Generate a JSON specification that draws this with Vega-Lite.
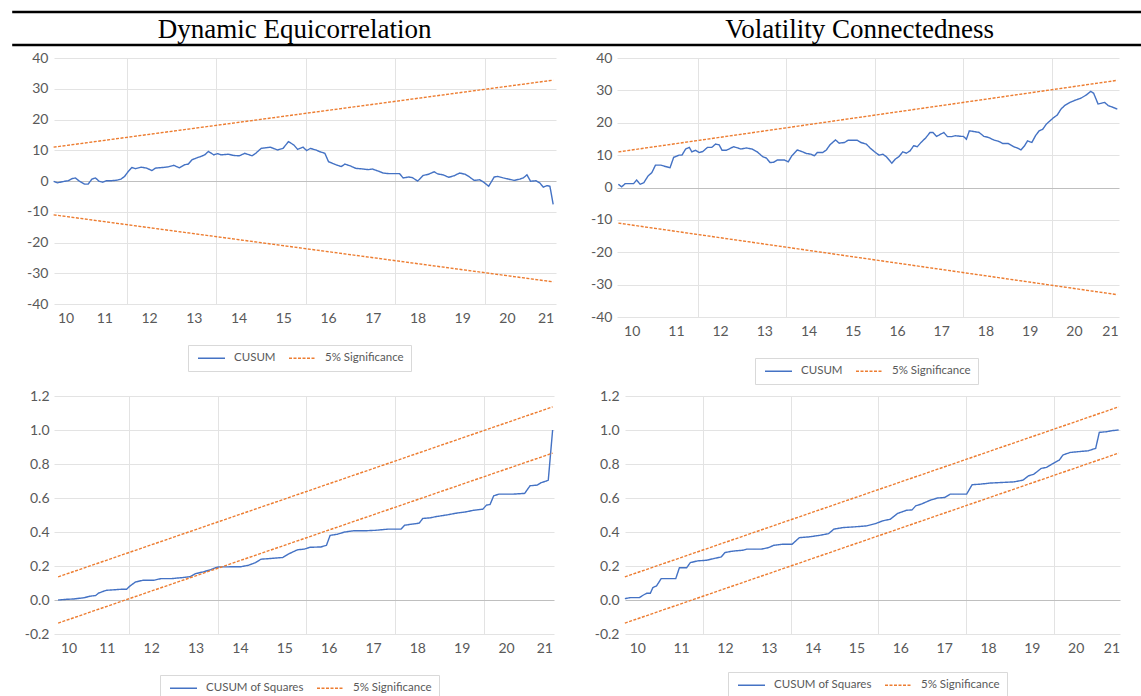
{
  "$schema": "https://vega.github.io/schema/vega-lite/v6.json",
  "background": "white",
  "padding": {"left": 10, "top": 10, "right": 0, "bottom": 0},
  "spacing": 4,
  "resolve": {"scale": {"color": "independent", "strokeDash": "independent"}, "legend": {"color": "independent", "strokeDash": "independent"}},
  "config": {
    "view": {"stroke": null},
    "axis": {"labelFont": "Lato", "labelFontSize": 14, "labelColor": "#595959", "domain": false, "ticks": false, "tickSize": 0, "gridColor": "#e3e3e3", "gridWidth": 1},
    "legend": {"symbolType": "M-0.6,0H4.8", "symbolSize": 100, "symbolStrokeWidth": 1.5, "labelFont": "Lato", "labelFontSize": 11.5, "labelColor": "#595959", "columnPadding": 10, "labelOffset": 27, "padding": 7, "strokeColor": "#d9d9d9", "fillColor": "#ffffff"}
  },
  "datasets": {
    "tl": [
      {"year":9.868,"value":-0.1,"series":"CUSUM"},{"year":9.950,"value":-0.6,"series":"CUSUM"},{"year":10.112,"value":-0.1,"series":"CUSUM"},{"year":10.194,"value":0.1,"series":"CUSUM"},{"year":10.275,"value":0.75,"series":"CUSUM"},{"year":10.356,"value":1.0,"series":"CUSUM"},{"year":10.438,"value":0,"series":"CUSUM"},{"year":10.560,"value":-1,"series":"CUSUM"},{"year":10.641,"value":-1,"series":"CUSUM"},{"year":10.723,"value":0.6,"series":"CUSUM"},{"year":10.804,"value":1,"series":"CUSUM"},{"year":10.885,"value":-0.1,"series":"CUSUM"},{"year":10.967,"value":-0.4,"series":"CUSUM"},{"year":11.048,"value":0.1,"series":"CUSUM"},{"year":11.170,"value":0.1,"series":"CUSUM"},{"year":11.292,"value":0.3,"series":"CUSUM"},{"year":11.373,"value":0.6,"series":"CUSUM"},{"year":11.455,"value":1.5,"series":"CUSUM"},{"year":11.536,"value":3.1,"series":"CUSUM"},{"year":11.618,"value":4.4,"series":"CUSUM"},{"year":11.699,"value":4.0,"series":"CUSUM"},{"year":11.821,"value":4.5,"series":"CUSUM"},{"year":11.943,"value":4.2,"series":"CUSUM"},{"year":12.065,"value":3.4,"series":"CUSUM"},{"year":12.146,"value":4.2,"series":"CUSUM"},{"year":12.309,"value":4.4,"series":"CUSUM"},{"year":12.431,"value":4.6,"series":"CUSUM"},{"year":12.553,"value":5.1,"series":"CUSUM"},{"year":12.675,"value":4.3,"series":"CUSUM"},{"year":12.797,"value":5.3,"series":"CUSUM"},{"year":12.879,"value":5.5,"series":"CUSUM"},{"year":12.960,"value":6.9,"series":"CUSUM"},{"year":13.082,"value":7.6,"series":"CUSUM"},{"year":13.164,"value":8.0,"series":"CUSUM"},{"year":13.245,"value":8.5,"series":"CUSUM"},{"year":13.326,"value":9.6,"series":"CUSUM"},{"year":13.448,"value":8.5,"series":"CUSUM"},{"year":13.530,"value":8.9,"series":"CUSUM"},{"year":13.611,"value":8.5,"series":"CUSUM"},{"year":13.774,"value":8.7,"series":"CUSUM"},{"year":13.896,"value":8.3,"series":"CUSUM"},{"year":14.018,"value":8.2,"series":"CUSUM"},{"year":14.140,"value":9.0,"series":"CUSUM"},{"year":14.303,"value":8.2,"series":"CUSUM"},{"year":14.384,"value":9.0,"series":"CUSUM"},{"year":14.506,"value":10.6,"series":"CUSUM"},{"year":14.710,"value":11.0,"series":"CUSUM"},{"year":14.872,"value":10.1,"series":"CUSUM"},{"year":14.994,"value":10.6,"series":"CUSUM"},{"year":15.116,"value":12.8,"series":"CUSUM"},{"year":15.238,"value":11.7,"series":"CUSUM"},{"year":15.320,"value":10.3,"series":"CUSUM"},{"year":15.442,"value":11.0,"series":"CUSUM"},{"year":15.523,"value":9.9,"series":"CUSUM"},{"year":15.605,"value":10.6,"series":"CUSUM"},{"year":15.727,"value":10.1,"series":"CUSUM"},{"year":15.808,"value":9.6,"series":"CUSUM"},{"year":15.930,"value":9.0,"series":"CUSUM"},{"year":16.011,"value":6.3,"series":"CUSUM"},{"year":16.174,"value":5.3,"series":"CUSUM"},{"year":16.296,"value":4.7,"series":"CUSUM"},{"year":16.378,"value":5.5,"series":"CUSUM"},{"year":16.500,"value":4.9,"series":"CUSUM"},{"year":16.622,"value":4.1,"series":"CUSUM"},{"year":16.784,"value":3.9,"series":"CUSUM"},{"year":16.906,"value":3.7,"series":"CUSUM"},{"year":16.988,"value":3.9,"series":"CUSUM"},{"year":17.110,"value":3.3,"series":"CUSUM"},{"year":17.232,"value":2.6,"series":"CUSUM"},{"year":17.354,"value":2.4,"series":"CUSUM"},{"year":17.598,"value":2.4,"series":"CUSUM"},{"year":17.679,"value":1.0,"series":"CUSUM"},{"year":17.801,"value":1.3,"series":"CUSUM"},{"year":17.883,"value":1.1,"series":"CUSUM"},{"year":18.005,"value":0,"series":"CUSUM"},{"year":18.127,"value":1.8,"series":"CUSUM"},{"year":18.249,"value":2.2,"series":"CUSUM"},{"year":18.371,"value":3.0,"series":"CUSUM"},{"year":18.452,"value":2.3,"series":"CUSUM"},{"year":18.574,"value":2.0,"series":"CUSUM"},{"year":18.696,"value":1.2,"series":"CUSUM"},{"year":18.819,"value":1.7,"series":"CUSUM"},{"year":18.941,"value":2.6,"series":"CUSUM"},{"year":19.063,"value":2.2,"series":"CUSUM"},{"year":19.144,"value":1.5,"series":"CUSUM"},{"year":19.266,"value":0.2,"series":"CUSUM"},{"year":19.388,"value":0.4,"series":"CUSUM"},{"year":19.469,"value":-0.3,"series":"CUSUM"},{"year":19.591,"value":-1.7,"series":"CUSUM"},{"year":19.714,"value":1.3,"series":"CUSUM"},{"year":19.795,"value":1.5,"series":"CUSUM"},{"year":19.917,"value":1.0,"series":"CUSUM"},{"year":20.039,"value":0.6,"series":"CUSUM"},{"year":20.161,"value":0.2,"series":"CUSUM"},{"year":20.283,"value":0.6,"series":"CUSUM"},{"year":20.364,"value":1.0,"series":"CUSUM"},{"year":20.446,"value":2.0,"series":"CUSUM"},{"year":20.527,"value":-0.1,"series":"CUSUM"},{"year":20.649,"value":0.1,"series":"CUSUM"},{"year":20.731,"value":-0.6,"series":"CUSUM"},{"year":20.812,"value":-2.0,"series":"CUSUM"},{"year":20.894,"value":-1.5,"series":"CUSUM"},{"year":20.959,"value":-1.7,"series":"CUSUM"},{"year":21.032,"value":-7.6,"series":"CUSUM"},
      {"year":9.868,"value":11.0,"series":"5% Significance","band":"upper"},{"year":21.032,"value":32.8,"series":"5% Significance","band":"upper"},
      {"year":9.868,"value":-11.0,"series":"5% Significance","band":"lower"},{"year":21.032,"value":-32.8,"series":"5% Significance","band":"lower"}
    ],
    "tr": [
      {"year":9.699,"value":1.0,"series":"CUSUM"},{"year":9.773,"value":0.2,"series":"CUSUM"},{"year":9.855,"value":1.2,"series":"CUSUM"},{"year":9.962,"value":1.2,"series":"CUSUM"},{"year":10.044,"value":1.2,"series":"CUSUM"},{"year":10.110,"value":2.3,"series":"CUSUM"},{"year":10.192,"value":1.0,"series":"CUSUM"},{"year":10.275,"value":1.5,"series":"CUSUM"},{"year":10.373,"value":3.6,"series":"CUSUM"},{"year":10.456,"value":4.6,"series":"CUSUM"},{"year":10.538,"value":6.9,"series":"CUSUM"},{"year":10.661,"value":6.9,"series":"CUSUM"},{"year":10.760,"value":6.5,"series":"CUSUM"},{"year":10.867,"value":6.1,"series":"CUSUM"},{"year":10.949,"value":9.3,"series":"CUSUM"},{"year":11.072,"value":10.0,"series":"CUSUM"},{"year":11.138,"value":10.0,"series":"CUSUM"},{"year":11.220,"value":11.9,"series":"CUSUM"},{"year":11.303,"value":12.4,"series":"CUSUM"},{"year":11.360,"value":11.0,"series":"CUSUM"},{"year":11.442,"value":11.5,"series":"CUSUM"},{"year":11.525,"value":10.8,"series":"CUSUM"},{"year":11.607,"value":11.1,"series":"CUSUM"},{"year":11.714,"value":12.4,"series":"CUSUM"},{"year":11.813,"value":12.4,"series":"CUSUM"},{"year":11.895,"value":13.4,"series":"CUSUM"},{"year":11.977,"value":13.2,"series":"CUSUM"},{"year":12.043,"value":11.5,"series":"CUSUM"},{"year":12.141,"value":11.5,"series":"CUSUM"},{"year":12.306,"value":12.6,"series":"CUSUM"},{"year":12.470,"value":11.9,"series":"CUSUM"},{"year":12.594,"value":12.2,"series":"CUSUM"},{"year":12.717,"value":11.9,"series":"CUSUM"},{"year":12.840,"value":11.0,"series":"CUSUM"},{"year":12.964,"value":9.5,"series":"CUSUM"},{"year":13.046,"value":9.1,"series":"CUSUM"},{"year":13.128,"value":7.7,"series":"CUSUM"},{"year":13.211,"value":7.8,"series":"CUSUM"},{"year":13.293,"value":8.5,"series":"CUSUM"},{"year":13.457,"value":8.5,"series":"CUSUM"},{"year":13.539,"value":7.9,"series":"CUSUM"},{"year":13.622,"value":9.8,"series":"CUSUM"},{"year":13.745,"value":11.6,"series":"CUSUM"},{"year":13.868,"value":11.0,"series":"CUSUM"},{"year":13.951,"value":10.5,"series":"CUSUM"},{"year":14.049,"value":10.3,"series":"CUSUM"},{"year":14.132,"value":9.8,"series":"CUSUM"},{"year":14.197,"value":10.8,"series":"CUSUM"},{"year":14.321,"value":10.8,"series":"CUSUM"},{"year":14.403,"value":11.6,"series":"CUSUM"},{"year":14.485,"value":13.2,"series":"CUSUM"},{"year":14.609,"value":14.7,"series":"CUSUM"},{"year":14.691,"value":13.7,"series":"CUSUM"},{"year":14.814,"value":13.9,"series":"CUSUM"},{"year":14.896,"value":14.6,"series":"CUSUM"},{"year":15.102,"value":14.6,"series":"CUSUM"},{"year":15.184,"value":13.9,"series":"CUSUM"},{"year":15.308,"value":13.4,"series":"CUSUM"},{"year":15.390,"value":12.2,"series":"CUSUM"},{"year":15.513,"value":10.8,"series":"CUSUM"},{"year":15.595,"value":10.0,"series":"CUSUM"},{"year":15.678,"value":10.3,"series":"CUSUM"},{"year":15.760,"value":9.5,"series":"CUSUM"},{"year":15.883,"value":7.5,"series":"CUSUM"},{"year":15.965,"value":8.8,"series":"CUSUM"},{"year":16.048,"value":9.6,"series":"CUSUM"},{"year":16.130,"value":11.0,"series":"CUSUM"},{"year":16.212,"value":10.6,"series":"CUSUM"},{"year":16.294,"value":11.3,"series":"CUSUM"},{"year":16.377,"value":12.9,"series":"CUSUM"},{"year":16.459,"value":12.6,"series":"CUSUM"},{"year":16.541,"value":13.9,"series":"CUSUM"},{"year":16.648,"value":15.3,"series":"CUSUM"},{"year":16.747,"value":17.0,"series":"CUSUM"},{"year":16.812,"value":17.0,"series":"CUSUM"},{"year":16.895,"value":15.8,"series":"CUSUM"},{"year":16.952,"value":16.2,"series":"CUSUM"},{"year":17.059,"value":17.0,"series":"CUSUM"},{"year":17.141,"value":15.7,"series":"CUSUM"},{"year":17.240,"value":15.7,"series":"CUSUM"},{"year":17.322,"value":16.0,"series":"CUSUM"},{"year":17.446,"value":15.8,"series":"CUSUM"},{"year":17.503,"value":15.8,"series":"CUSUM"},{"year":17.569,"value":14.9,"series":"CUSUM"},{"year":17.635,"value":17.5,"series":"CUSUM"},{"year":17.734,"value":17.3,"series":"CUSUM"},{"year":17.857,"value":17.0,"series":"CUSUM"},{"year":17.964,"value":15.8,"series":"CUSUM"},{"year":18.062,"value":15.5,"series":"CUSUM"},{"year":18.186,"value":14.7,"series":"CUSUM"},{"year":18.309,"value":14.2,"series":"CUSUM"},{"year":18.391,"value":13.6,"series":"CUSUM"},{"year":18.515,"value":13.6,"series":"CUSUM"},{"year":18.638,"value":12.6,"series":"CUSUM"},{"year":18.720,"value":12.2,"series":"CUSUM"},{"year":18.803,"value":11.6,"series":"CUSUM"},{"year":18.885,"value":12.9,"series":"CUSUM"},{"year":18.951,"value":14.4,"series":"CUSUM"},{"year":19.049,"value":13.9,"series":"CUSUM"},{"year":19.132,"value":16.0,"series":"CUSUM"},{"year":19.214,"value":17.5,"series":"CUSUM"},{"year":19.296,"value":18.0,"series":"CUSUM"},{"year":19.378,"value":19.6,"series":"CUSUM"},{"year":19.461,"value":20.6,"series":"CUSUM"},{"year":19.543,"value":21.6,"series":"CUSUM"},{"year":19.625,"value":22.4,"series":"CUSUM"},{"year":19.707,"value":24.2,"series":"CUSUM"},{"year":19.789,"value":25.3,"series":"CUSUM"},{"year":19.913,"value":26.3,"series":"CUSUM"},{"year":20.036,"value":27.0,"series":"CUSUM"},{"year":20.160,"value":27.6,"series":"CUSUM"},{"year":20.283,"value":28.6,"series":"CUSUM"},{"year":20.382,"value":29.7,"series":"CUSUM"},{"year":20.447,"value":29.1,"series":"CUSUM"},{"year":20.546,"value":25.8,"series":"CUSUM"},{"year":20.612,"value":26.0,"series":"CUSUM"},{"year":20.694,"value":26.3,"series":"CUSUM"},{"year":20.776,"value":25.3,"series":"CUSUM"},{"year":20.859,"value":24.9,"series":"CUSUM"},{"year":20.982,"value":24.2,"series":"CUSUM"},
      {"year":9.699,"value":11.0,"series":"5% Significance","band":"upper"},{"year":20.982,"value":33.1,"series":"5% Significance","band":"upper"},
      {"year":9.699,"value":-11.0,"series":"5% Significance","band":"lower"},{"year":20.982,"value":-33.1,"series":"5% Significance","band":"lower"}
    ],
    "bl": [
      {"year":9.902,"value":0.0,"series":"CUSUM of Squares"},{"year":10.090,"value":0.004,"series":"CUSUM of Squares"},{"year":10.254,"value":0.006,"series":"CUSUM of Squares"},{"year":10.377,"value":0.01,"series":"CUSUM of Squares"},{"year":10.500,"value":0.014,"series":"CUSUM of Squares"},{"year":10.582,"value":0.02,"series":"CUSUM of Squares"},{"year":10.664,"value":0.024,"series":"CUSUM of Squares"},{"year":10.746,"value":0.026,"series":"CUSUM of Squares"},{"year":10.811,"value":0.04,"series":"CUSUM of Squares"},{"year":10.910,"value":0.05,"series":"CUSUM of Squares"},{"year":10.992,"value":0.057,"series":"CUSUM of Squares"},{"year":11.156,"value":0.06,"series":"CUSUM of Squares"},{"year":11.320,"value":0.063,"series":"CUSUM of Squares"},{"year":11.443,"value":0.063,"series":"CUSUM of Squares"},{"year":11.525,"value":0.083,"series":"CUSUM of Squares"},{"year":11.648,"value":0.106,"series":"CUSUM of Squares"},{"year":11.811,"value":0.116,"series":"CUSUM of Squares"},{"year":12.057,"value":0.116,"series":"CUSUM of Squares"},{"year":12.221,"value":0.126,"series":"CUSUM of Squares"},{"year":12.467,"value":0.126,"series":"CUSUM of Squares"},{"year":12.713,"value":0.132,"series":"CUSUM of Squares"},{"year":12.877,"value":0.137,"series":"CUSUM of Squares"},{"year":13.000,"value":0.155,"series":"CUSUM of Squares"},{"year":13.164,"value":0.165,"series":"CUSUM of Squares"},{"year":13.328,"value":0.177,"series":"CUSUM of Squares"},{"year":13.451,"value":0.19,"series":"CUSUM of Squares"},{"year":13.533,"value":0.195,"series":"CUSUM of Squares"},{"year":13.697,"value":0.195,"series":"CUSUM of Squares"},{"year":14.025,"value":0.196,"series":"CUSUM of Squares"},{"year":14.189,"value":0.204,"series":"CUSUM of Squares"},{"year":14.352,"value":0.22,"series":"CUSUM of Squares"},{"year":14.475,"value":0.24,"series":"CUSUM of Squares"},{"year":14.680,"value":0.244,"series":"CUSUM of Squares"},{"year":14.967,"value":0.25,"series":"CUSUM of Squares"},{"year":15.090,"value":0.27,"series":"CUSUM of Squares"},{"year":15.295,"value":0.295,"series":"CUSUM of Squares"},{"year":15.459,"value":0.30,"series":"CUSUM of Squares"},{"year":15.582,"value":0.31,"series":"CUSUM of Squares"},{"year":15.828,"value":0.312,"series":"CUSUM of Squares"},{"year":15.951,"value":0.322,"series":"CUSUM of Squares"},{"year":16.033,"value":0.38,"series":"CUSUM of Squares"},{"year":16.197,"value":0.387,"series":"CUSUM of Squares"},{"year":16.361,"value":0.40,"series":"CUSUM of Squares"},{"year":16.566,"value":0.407,"series":"CUSUM of Squares"},{"year":16.811,"value":0.407,"series":"CUSUM of Squares"},{"year":17.057,"value":0.41,"series":"CUSUM of Squares"},{"year":17.344,"value":0.417,"series":"CUSUM of Squares"},{"year":17.631,"value":0.417,"series":"CUSUM of Squares"},{"year":17.713,"value":0.44,"series":"CUSUM of Squares"},{"year":18.041,"value":0.452,"series":"CUSUM of Squares"},{"year":18.123,"value":0.48,"series":"CUSUM of Squares"},{"year":18.287,"value":0.483,"series":"CUSUM of Squares"},{"year":18.410,"value":0.49,"series":"CUSUM of Squares"},{"year":18.656,"value":0.50,"series":"CUSUM of Squares"},{"year":18.861,"value":0.51,"series":"CUSUM of Squares"},{"year":19.107,"value":0.519,"series":"CUSUM of Squares"},{"year":19.270,"value":0.528,"series":"CUSUM of Squares"},{"year":19.475,"value":0.534,"series":"CUSUM of Squares"},{"year":19.557,"value":0.558,"series":"CUSUM of Squares"},{"year":19.639,"value":0.562,"series":"CUSUM of Squares"},{"year":19.721,"value":0.613,"series":"CUSUM of Squares"},{"year":19.844,"value":0.623,"series":"CUSUM of Squares"},{"year":20.172,"value":0.623,"series":"CUSUM of Squares"},{"year":20.418,"value":0.627,"series":"CUSUM of Squares"},{"year":20.541,"value":0.672,"series":"CUSUM of Squares"},{"year":20.705,"value":0.676,"series":"CUSUM of Squares"},{"year":20.787,"value":0.69,"series":"CUSUM of Squares"},{"year":20.910,"value":0.70,"series":"CUSUM of Squares"},{"year":20.951,"value":0.705,"series":"CUSUM of Squares"},{"year":21.049,"value":1.0,"series":"CUSUM of Squares"},
      {"year":9.902,"value":0.136,"series":"5% Significance","band":"upper"},{"year":21.049,"value":1.136,"series":"5% Significance","band":"upper"},
      {"year":9.902,"value":-0.136,"series":"5% Significance","band":"lower"},{"year":21.049,"value":0.864,"series":"5% Significance","band":"lower"}
    ],
    "br": [
      {"year":9.717,"value":0.008,"series":"CUSUM of Squares"},{"year":9.842,"value":0.014,"series":"CUSUM of Squares"},{"year":10.049,"value":0.014,"series":"CUSUM of Squares"},{"year":10.132,"value":0.028,"series":"CUSUM of Squares"},{"year":10.215,"value":0.04,"series":"CUSUM of Squares"},{"year":10.298,"value":0.04,"series":"CUSUM of Squares"},{"year":10.356,"value":0.073,"series":"CUSUM of Squares"},{"year":10.439,"value":0.083,"series":"CUSUM of Squares"},{"year":10.546,"value":0.126,"series":"CUSUM of Squares"},{"year":10.878,"value":0.126,"series":"CUSUM of Squares"},{"year":10.961,"value":0.19,"series":"CUSUM of Squares"},{"year":11.127,"value":0.19,"series":"CUSUM of Squares"},{"year":11.210,"value":0.22,"series":"CUSUM of Squares"},{"year":11.376,"value":0.23,"series":"CUSUM of Squares"},{"year":11.583,"value":0.234,"series":"CUSUM of Squares"},{"year":11.749,"value":0.244,"series":"CUSUM of Squares"},{"year":11.915,"value":0.253,"series":"CUSUM of Squares"},{"year":11.998,"value":0.279,"series":"CUSUM of Squares"},{"year":12.163,"value":0.287,"series":"CUSUM of Squares"},{"year":12.412,"value":0.293,"series":"CUSUM of Squares"},{"year":12.495,"value":0.299,"series":"CUSUM of Squares"},{"year":12.827,"value":0.299,"series":"CUSUM of Squares"},{"year":12.993,"value":0.308,"series":"CUSUM of Squares"},{"year":13.117,"value":0.322,"series":"CUSUM of Squares"},{"year":13.324,"value":0.328,"series":"CUSUM of Squares"},{"year":13.532,"value":0.328,"series":"CUSUM of Squares"},{"year":13.697,"value":0.367,"series":"CUSUM of Squares"},{"year":13.905,"value":0.371,"series":"CUSUM of Squares"},{"year":14.153,"value":0.38,"series":"CUSUM of Squares"},{"year":14.361,"value":0.39,"series":"CUSUM of Squares"},{"year":14.485,"value":0.417,"series":"CUSUM of Squares"},{"year":14.692,"value":0.426,"series":"CUSUM of Squares"},{"year":14.941,"value":0.43,"series":"CUSUM of Squares"},{"year":15.231,"value":0.436,"series":"CUSUM of Squares"},{"year":15.439,"value":0.45,"series":"CUSUM of Squares"},{"year":15.604,"value":0.466,"series":"CUSUM of Squares"},{"year":15.770,"value":0.475,"series":"CUSUM of Squares"},{"year":15.936,"value":0.509,"series":"CUSUM of Squares"},{"year":16.143,"value":0.528,"series":"CUSUM of Squares"},{"year":16.268,"value":0.53,"series":"CUSUM of Squares"},{"year":16.351,"value":0.554,"series":"CUSUM of Squares"},{"year":16.475,"value":0.564,"series":"CUSUM of Squares"},{"year":16.682,"value":0.587,"series":"CUSUM of Squares"},{"year":16.848,"value":0.60,"series":"CUSUM of Squares"},{"year":17.014,"value":0.603,"series":"CUSUM of Squares"},{"year":17.138,"value":0.623,"series":"CUSUM of Squares"},{"year":17.304,"value":0.623,"series":"CUSUM of Squares"},{"year":17.512,"value":0.623,"series":"CUSUM of Squares"},{"year":17.637,"value":0.678,"series":"CUSUM of Squares"},{"year":17.843,"value":0.682,"series":"CUSUM of Squares"},{"year":18.051,"value":0.688,"series":"CUSUM of Squares"},{"year":18.382,"value":0.692,"series":"CUSUM of Squares"},{"year":18.590,"value":0.695,"series":"CUSUM of Squares"},{"year":18.797,"value":0.705,"series":"CUSUM of Squares"},{"year":18.921,"value":0.73,"series":"CUSUM of Squares"},{"year":19.046,"value":0.74,"series":"CUSUM of Squares"},{"year":19.212,"value":0.774,"series":"CUSUM of Squares"},{"year":19.336,"value":0.78,"series":"CUSUM of Squares"},{"year":19.460,"value":0.80,"series":"CUSUM of Squares"},{"year":19.626,"value":0.823,"series":"CUSUM of Squares"},{"year":19.709,"value":0.853,"series":"CUSUM of Squares"},{"year":19.875,"value":0.868,"series":"CUSUM of Squares"},{"year":20.123,"value":0.874,"series":"CUSUM of Squares"},{"year":20.289,"value":0.878,"series":"CUSUM of Squares"},{"year":20.455,"value":0.892,"series":"CUSUM of Squares"},{"year":20.538,"value":0.986,"series":"CUSUM of Squares"},{"year":20.704,"value":0.99,"series":"CUSUM of Squares"},{"year":20.828,"value":0.996,"series":"CUSUM of Squares"},{"year":20.978,"value":1.0,"series":"CUSUM of Squares"},
      {"year":9.717,"value":0.136,"series":"5% Significance","band":"upper"},{"year":20.978,"value":1.136,"series":"5% Significance","band":"upper"},
      {"year":9.717,"value":-0.136,"series":"5% Significance","band":"lower"},{"year":20.978,"value":0.864,"series":"5% Significance","band":"lower"}
    ]
  },
  "vconcat": [
    {
      "width": 1088,
      "height": 33,
      "layer": [
        {
          "data": {"values": [{"edge": "top"}, {"edge": "bottom"}]},
          "mark": {"type": "rule", "strokeWidth": 2.5, "color": "#000000"},
          "encoding": {
            "x": {"datum": 0, "type": "quantitative", "scale": {"domain": [0.037, 1], "nice": false, "zero": false}, "axis": null},
            "x2": {"datum": 1},
            "y": {"field": "edge", "type": "nominal", "scale": {"type": "point", "padding": 0, "domain": ["top", "bottom"]}, "axis": null}
          }
        },
        {
          "data": {"values": [{"panel": "Dynamic Equicorrelation"}]},
          "mark": {"type": "text", "font": "Liberation Serif", "fontSize": 27, "color": "#000000", "baseline": "alphabetic", "dy": 9.5},
          "encoding": {"x": {"datum": 0.25, "type": "quantitative"}, "text": {"field": "panel"}}
        },
        {
          "data": {"values": [{"panel": "Volatility Connectedness"}]},
          "mark": {"type": "text", "font": "Liberation Serif", "fontSize": 27, "color": "#000000", "baseline": "alphabetic", "dy": 9.5},
          "encoding": {"x": {"datum": 0.75, "type": "quantitative"}, "text": {"field": "panel"}}
        }
      ]
    },
    {
      "hconcat": [
        {
          "width": 502, "height": 246,
          "data": {"name": "tl"},
          "mark": {"type": "line", "strokeWidth": 1.4},
          "encoding": {
            "x": {"field": "year", "type": "quantitative", "title": null, "scale": {"domain": [9.877, 21.095], "nice": false, "zero": false},
              "axis": {"values": [10,11,11.5,12,13,13.5,14,15,15.5,16,17,17.5,18,19,19.5,20,21], "labelExpr": "datum.value % 1 == 0 ? format(datum.value, 'd') : ''", "gridOpacity": {"condition": {"test": "datum.value % 1 != 0", "value": 1}, "value": 0}, "labelFlush": 10, "labelFlushOffset": 2, "labelPadding": 7, "labelOverlap": false}},
            "y": {"field": "value", "type": "quantitative", "title": null, "scale": {"domain": [-40, 40], "nice": false},
              "axis": {"values": [-40,-30,-20,-10,0,10,20,30,40], "labelExpr": "replace(datum.label, '\u2212', '-')", "gridColor": {"condition": {"test": "datum.value == 0", "value": "#bfbfbf"}, "value": "#e3e3e3"}, "labelPadding": 6, "minExtent": 40}},
            "color": {"field": "series", "type": "nominal", "scale": {"domain": ["CUSUM", "5% Significance"], "range": ["#4472c4", "#ed7d31"]}, "legend": {"orient": "none", "legendX": 134, "legendY": 287, "direction": "horizontal", "title": null}},
            "strokeDash": {"field": "series", "type": "nominal", "scale": {"domain": ["CUSUM", "5% Significance"], "range": [[1, 0], [3, 1.5]]}, "legend": {"orient": "none", "legendX": 134, "legendY": 287, "direction": "horizontal", "title": null}},
            "detail": {"field": "band", "type": "nominal"}
          }
        },
        {
          "width": 502, "height": 259,
          "data": {"name": "tr"},
          "mark": {"type": "line", "strokeWidth": 1.4},
          "encoding": {
            "x": {"field": "year", "type": "quantitative", "title": null, "scale": {"domain": [9.668, 21.02], "nice": false, "zero": false},
              "axis": {"values": [10,11,11.5,12,13,13.5,14,15,15.5,16,17,17.5,18,19,19.5,20,21], "labelExpr": "datum.value % 1 == 0 ? format(datum.value, 'd') : ''", "gridOpacity": {"condition": {"test": "datum.value % 1 != 0", "value": 1}, "value": 0}, "labelFlush": 10, "labelFlushOffset": 0, "labelPadding": 7, "labelOverlap": false}},
            "y": {"field": "value", "type": "quantitative", "title": null, "scale": {"domain": [-40, 40], "nice": false},
              "axis": {"values": [-40,-30,-20,-10,0,10,20,30,40], "labelExpr": "replace(datum.label, '\u2212', '-')", "gridColor": {"condition": {"test": "datum.value == 0", "value": "#bfbfbf"}, "value": "#e3e3e3"}, "labelPadding": 5, "minExtent": 41}},
            "color": {"field": "series", "type": "nominal", "scale": {"domain": ["CUSUM", "5% Significance"], "range": ["#4472c4", "#ed7d31"]}, "legend": {"orient": "none", "legendX": 138, "legendY": 300, "direction": "horizontal", "title": null}},
            "strokeDash": {"field": "series", "type": "nominal", "scale": {"domain": ["CUSUM", "5% Significance"], "range": [[1, 0], [3, 1.5]]}, "legend": {"orient": "none", "legendX": 138, "legendY": 300, "direction": "horizontal", "title": null}},
            "detail": {"field": "band", "type": "nominal"}
          }
        }
      ],
      "spacing": 20,
      "resolve": {"scale": {"color": "independent", "strokeDash": "independent"}, "legend": {"color": "independent", "strokeDash": "independent"}}
    },
    {
      "hconcat": [
        {
          "width": 500, "height": 238,
          "data": {"name": "bl"},
          "mark": {"type": "line", "strokeWidth": 1.4},
          "encoding": {
            "x": {"field": "year", "type": "quantitative", "title": null, "scale": {"domain": [9.809, 21.08], "nice": false, "zero": false},
              "axis": {"values": [10,11,11.5,12,13,13.5,14,15,15.5,16,17,17.5,18,19,19.5,20,21], "labelExpr": "datum.value % 1 == 0 ? format(datum.value, 'd') : ''", "gridOpacity": {"condition": {"test": "datum.value % 1 != 0", "value": 1}, "value": 0}, "labelFlush": 10, "labelFlushOffset": 2, "labelPadding": 7, "labelOverlap": false}},
            "y": {"field": "value", "type": "quantitative", "title": null, "scale": {"domain": [-0.2, 1.2], "nice": false, "zero": false},
              "axis": {"values": [-0.2,0,0.2,0.4,0.6,0.8,1.0,1.2], "format": ".1f", "labelExpr": "replace(datum.label, '\u2212', '-')", "gridColor": {"condition": {"test": "datum.value == 0", "value": "#bfbfbf"}, "value": "#e3e3e3"}, "labelPadding": 5, "minExtent": 42}},
            "color": {"field": "series", "type": "nominal", "scale": {"domain": ["CUSUM of Squares", "5% Significance"], "range": ["#4472c4", "#ed7d31"]}, "legend": {"orient": "none", "legendX": 106, "legendY": 279, "direction": "horizontal", "title": null}},
            "strokeDash": {"field": "series", "type": "nominal", "scale": {"domain": ["CUSUM of Squares", "5% Significance"], "range": [[1, 0], [3, 1.5]]}, "legend": {"orient": "none", "legendX": 106, "legendY": 279, "direction": "horizontal", "title": null}},
            "detail": {"field": "band", "type": "nominal"}
          }
        },
        {
          "width": 495, "height": 238,
          "data": {"name": "br"},
          "mark": {"type": "line", "strokeWidth": 1.4},
          "encoding": {
            "x": {"field": "year", "type": "quantitative", "title": null, "scale": {"domain": [9.72, 21.01], "nice": false, "zero": false},
              "axis": {"values": [10,11,11.5,12,13,13.5,14,15,15.5,16,17,17.5,18,19,19.5,20,21], "labelExpr": "datum.value % 1 == 0 ? format(datum.value, 'd') : ''", "gridOpacity": {"condition": {"test": "datum.value % 1 != 0", "value": 1}, "value": 0}, "labelFlush": 10, "labelFlushOffset": 0, "labelPadding": 7, "labelOverlap": false}},
            "y": {"field": "value", "type": "quantitative", "title": null, "scale": {"domain": [-0.2, 1.2], "nice": false, "zero": false},
              "axis": {"values": [-0.2,0,0.2,0.4,0.6,0.8,1.0,1.2], "format": ".1f", "labelExpr": "replace(datum.label, '\u2212', '-')", "gridColor": {"condition": {"test": "datum.value == 0", "value": "#bfbfbf"}, "value": "#e3e3e3"}, "labelPadding": 6, "minExtent": 49}},
            "color": {"field": "series", "type": "nominal", "scale": {"domain": ["CUSUM of Squares", "5% Significance"], "range": ["#4472c4", "#ed7d31"]}, "legend": {"orient": "none", "legendX": 103, "legendY": 276, "direction": "horizontal", "title": null}},
            "strokeDash": {"field": "series", "type": "nominal", "scale": {"domain": ["CUSUM of Squares", "5% Significance"], "range": [[1, 0], [3, 1.5]]}, "legend": {"orient": "none", "legendX": 103, "legendY": 276, "direction": "horizontal", "title": null}},
            "detail": {"field": "band", "type": "nominal"}
          }
        }
      ],
      "spacing": 20,
      "resolve": {"scale": {"color": "independent", "strokeDash": "independent"}, "legend": {"color": "independent", "strokeDash": "independent"}}
    }
  ]
}
